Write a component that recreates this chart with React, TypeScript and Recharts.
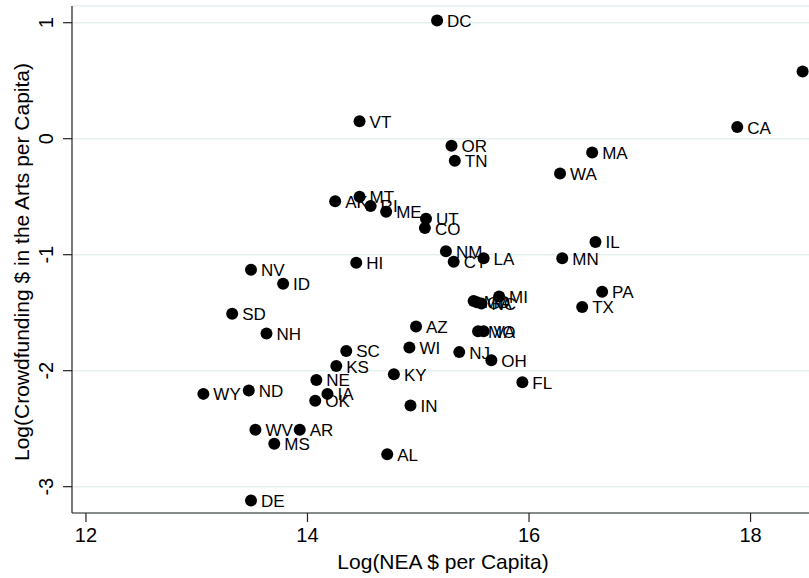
import { ScatterChart, Scatter, XAxis, YAxis, CartesianGrid } from "recharts";

// state labels, log NEA $ per capita, log crowdfunding $ per capita
const states = [
  "DC", "NY", "VT", "CA", "OR", "MA", "TN", "WA", "AK", "MT", "RI", "ME", "UT",
  "CO", "NM", "CT", "LA", "HI", "NV", "ID", "IL", "MN", "SD", "NH", "AZ", "PA",
  "TX", "MD", "GA", "NC", "MI", "MO", "VA", "SC", "KS", "NE", "WY", "ND", "IA",
  "OK", "WV", "AR", "MS", "AL", "KY", "IN", "WI", "NJ", "OH", "FL", "DE",
];
const neaLog = [
  15.17, 18.47, 14.47, 17.88, 15.3, 16.57, 15.33, 16.28, 14.25, 14.47, 14.57, 14.71, 15.07,
  15.06, 15.25, 15.32, 15.59, 14.44, 13.49, 13.78, 16.6, 16.3, 13.32, 13.63, 14.98, 16.66,
  16.48, 15.5, 15.53, 15.57, 15.73, 15.54, 15.59, 14.35, 14.26, 14.08, 13.06, 13.47, 14.18,
  14.07, 13.53, 13.93, 13.7, 14.72, 14.78, 14.93, 14.92, 15.37, 15.66, 15.94, 13.49,
];
const crowdLog = [
  1.02, 0.58, 0.15, 0.1, -0.06, -0.12, -0.19, -0.3, -0.54, -0.5, -0.58, -0.63, -0.69,
  -0.77, -0.97, -1.06, -1.03, -1.07, -1.13, -1.25, -0.89, -1.03, -1.51, -1.68, -1.62, -1.32,
  -1.45, -1.4, -1.41, -1.42, -1.36, -1.66, -1.66, -1.83, -1.96, -2.08, -2.2, -2.17, -2.2,
  -2.26, -2.51, -2.51, -2.63, -2.72, -2.03, -2.3, -1.8, -1.84, -1.91, -2.1, -3.12,
];
const xTicks = [12, 14, 16, 18];
const yTicks = [-3, -2, -1, 0, 1];

const data = states.map((s, i) => ({ state: s, x: neaLog[i], y: crowdLog[i] }));

const font = '"Liberation Sans", Arial, Helvetica, sans-serif';
const axisStroke = { stroke: "#222", strokeWidth: 1.2 };

function YTick(props: any) {
  const { y, payload } = props;
  return (
    <text
      x={53}
      y={y}
      transform={`rotate(-90 53 ${y})`}
      textAnchor="middle"
      fontSize={20}
      fontFamily={font}
      fill="#000"
    >
      {payload.value}
    </text>
  );
}

function Dot(props: any) {
  const { cx, cy, payload } = props;
  return (
    <g>
      <circle cx={cx} cy={cy} r={6} fill="#000" />
      <text
        x={cx + 10}
        y={cy + 1}
        dominantBaseline="central"
        fontSize={17}
        fontFamily={font}
        fill="#000"
      >
        {payload.state}
      </text>
    </g>
  );
}

export default function App() {
  return (
    <div
      style={{
        position: "absolute",
        left: 0,
        top: 0,
        width: 809,
        height: 578,
        overflow: "hidden",
        background: "#fff",
      }}
    >
      <ScatterChart width={820} height={578} margin={{ top: 6, right: 0, bottom: 0, left: 0 }}>
        <CartesianGrid vertical={false} stroke="#e6eff0" strokeWidth={1.5} />
        <XAxis
          type="number"
          dataKey="x"
          domain={[11.874, 18.627]}
          ticks={xTicks}
          interval={0}
          allowDataOverflow
          height={65}
          tickSize={9}
          tickMargin={6}
          axisLine={axisStroke}
          tickLine={axisStroke}
          tick={{ fontSize: 20, fill: "#000", fontFamily: font }}
        />
        <YAxis
          type="number"
          dataKey="y"
          domain={[-3.227, 1.144]}
          ticks={yTicks}
          interval={0}
          allowDataOverflow
          width={72}
          tickSize={9}
          axisLine={axisStroke}
          tickLine={axisStroke}
          tick={<YTick />}
        />
        <Scatter data={data} isAnimationActive={false} shape={<Dot />} />
      </ScatterChart>
      <svg
        width={809}
        height={578}
        style={{ position: "absolute", left: 0, top: 0, pointerEvents: "none" }}
      >
        <text x={443} y={569} textAnchor="middle" fontSize={21} fontFamily={font} fill="#000">
          Log(NEA $ per Capita)
        </text>
        <text
          x={29}
          y={262}
          transform="rotate(-90 29 262)"
          textAnchor="middle"
          fontSize={21}
          fontFamily={font}
          fill="#000"
        >
          Log(Crowdfunding $ in the Arts per Capita)
        </text>
      </svg>
    </div>
  );
}
